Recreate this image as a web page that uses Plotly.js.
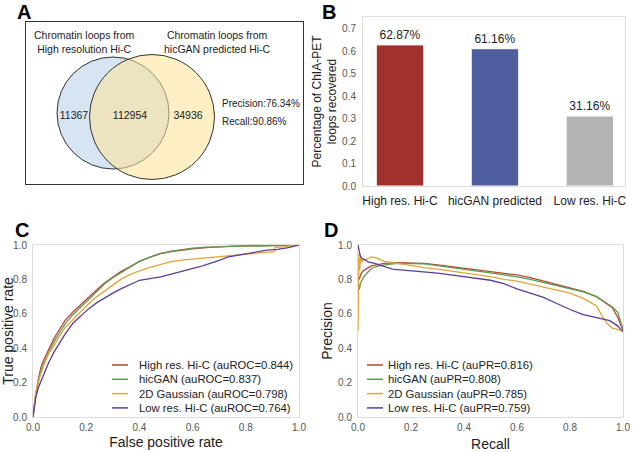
<!DOCTYPE html>
<html><head><meta charset="utf-8">
<script src="https://cdn.plot.ly/plotly-3.0.1.min.js"></script>
<style>html,body{margin:0;padding:0;background:#fff}#chart{width:633px;height:452px}</style>
</head><body><div id="chart"></div>
<script>
// ---------- Panel A data ----------
const vennSets = ['Chromatin loops from<br>High resolution Hi-C', 'Chromatin loops from<br>hicGAN predicted Hi-C'];
const vennCounts = [11367, 112954, 34936];
const vennStats = ['Precision:76.34%', 'Recall:90.86%'];

// ---------- Panel B data ----------
const barCats = ['High res. Hi-C', 'hicGAN predicted', 'Low res. Hi-C'];
const barVals = [0.6287, 0.6116, 0.3116];
const barColors = ['#a3312b', '#4f5e9e', '#b3b3b3'];

// ---------- Panel C/D series ----------
const seriesNames = ['High res. Hi-C', 'hicGAN', '2D Gaussian', 'Low res. Hi-C'];
const seriesColors = ['#bb423b', '#5c9e4e', '#e4a43c', '#5a3e98'];
const auROC = [0.844, 0.837, 0.798, 0.764];
const auPR = [0.816, 0.808, 0.785, 0.759];

const rocHighFpr = [0,0.005,0.01,0.02,0.03,0.04,0.06,0.08,0.10,0.12,0.15,0.18,0.21,0.24,0.27,0.30,0.33,0.36,0.40,0.44,0.48,0.52,0.56,0.60,0.65,0.70,0.75,0.80,0.90,1.0];
const rocHighTpr = [0,0.08,0.13,0.22,0.29,0.33,0.40,0.46,0.51,0.56,0.61,0.655,0.70,0.74,0.78,0.815,0.845,0.87,0.905,0.93,0.95,0.962,0.972,0.978,0.985,0.99,0.993,0.995,0.997,1.0];
const rocGanFpr = [0,0.005,0.01,0.02,0.03,0.04,0.06,0.08,0.10,0.12,0.15,0.18,0.21,0.24,0.27,0.30,0.33,0.36,0.40,0.44,0.48,0.52,0.56,0.60,0.65,0.70,0.75,0.80,0.90,1.0];
const rocGanTpr = [0,0.07,0.12,0.20,0.27,0.31,0.38,0.44,0.49,0.54,0.595,0.64,0.69,0.735,0.775,0.81,0.84,0.87,0.905,0.93,0.952,0.965,0.975,0.982,0.988,0.99,0.992,0.994,0.996,1.0];
const rocGaussFpr = [0,0.005,0.01,0.02,0.03,0.04,0.06,0.08,0.10,0.12,0.15,0.18,0.21,0.24,0.27,0.30,0.33,0.36,0.40,0.44,0.48,0.52,0.56,0.60,0.65,0.70,0.75,0.80,0.85,0.908,0.91,0.95,1.0];
const rocGaussTpr = [0,0.09,0.14,0.21,0.26,0.30,0.37,0.42,0.47,0.52,0.565,0.615,0.66,0.70,0.735,0.77,0.80,0.825,0.85,0.87,0.888,0.903,0.912,0.918,0.925,0.932,0.94,0.945,0.952,0.962,0.985,0.99,1.0];
const rocLowFpr = [0,0.005,0.01,0.02,0.03,0.04,0.06,0.08,0.10,0.12,0.15,0.18,0.21,0.24,0.27,0.30,0.33,0.36,0.40,0.44,0.48,0.52,0.56,0.60,0.63,0.66,0.70,0.73,0.77,0.80,0.84,0.88,0.92,0.96,1.0];
const rocLowTpr = [0,0.07,0.11,0.17,0.21,0.25,0.32,0.38,0.43,0.48,0.545,0.59,0.63,0.665,0.695,0.72,0.745,0.765,0.795,0.805,0.815,0.83,0.845,0.86,0.875,0.89,0.91,0.93,0.94,0.95,0.96,0.97,0.975,0.985,1.0];

const prHighRec = [0,0.005,0.01,0.02,0.03,0.05,0.07,0.1,0.15,0.2,0.25,0.3,0.35,0.4,0.45,0.5,0.55,0.6,0.65,0.7,0.75,0.8,0.85,0.9,0.93,0.96,0.98,0.99,1.0];
const prHighPrec = [0.82,0.80,0.83,0.85,0.86,0.878,0.885,0.893,0.897,0.895,0.893,0.885,0.875,0.865,0.857,0.848,0.838,0.826,0.81,0.79,0.77,0.75,0.73,0.70,0.67,0.635,0.58,0.54,0.505];
const prGanRec = [0,0.005,0.01,0.02,0.03,0.05,0.07,0.1,0.15,0.2,0.25,0.3,0.35,0.4,0.45,0.5,0.55,0.6,0.65,0.7,0.75,0.8,0.85,0.9,0.93,0.96,0.98,0.99,1.0];
const prGanPrec = [0.80,0.74,0.78,0.81,0.83,0.862,0.875,0.885,0.893,0.892,0.89,0.88,0.868,0.857,0.848,0.838,0.828,0.815,0.80,0.782,0.765,0.748,0.728,0.70,0.672,0.64,0.61,0.56,0.51];
const prGaussRec = [0,0.003,0.006,0.01,0.015,0.02,0.03,0.05,0.07,0.1,0.15,0.2,0.25,0.3,0.35,0.4,0.45,0.5,0.55,0.6,0.65,0.7,0.75,0.8,0.85,0.88,0.9,0.92,0.94,0.96,0.98,1.0];
const prGaussPrec = [0.5,0.95,0.85,0.93,0.90,0.92,0.915,0.93,0.925,0.905,0.893,0.88,0.868,0.86,0.85,0.84,0.828,0.816,0.80,0.79,0.772,0.755,0.738,0.72,0.69,0.665,0.645,0.59,0.545,0.515,0.51,0.50];
const prLowRec = [0,0.003,0.008,0.015,0.025,0.04,0.06,0.08,0.1,0.13,0.16,0.2,0.25,0.3,0.35,0.4,0.45,0.5,0.55,0.6,0.65,0.7,0.75,0.8,0.85,0.9,0.95,0.98,1.0];
const prLowPrec = [1.0,0.98,0.94,0.92,0.915,0.90,0.895,0.885,0.875,0.86,0.855,0.85,0.845,0.836,0.826,0.816,0.805,0.795,0.775,0.745,0.72,0.695,0.66,0.625,0.595,0.578,0.56,0.53,0.495];

// ---------- layout helpers (positions only) ----------
const W = 633, H = 452;
const PX = p => p / W;
const PY = p => 1 - p / H;
const FONT = 'Liberation Sans, Arial, sans-serif';

const rocX = [rocHighFpr, rocGanFpr, rocGaussFpr, rocLowFpr];
const rocY = [rocHighTpr, rocGanTpr, rocGaussTpr, rocLowTpr];
const prX = [prHighRec, prGanRec, prGaussRec, prLowRec];
const prY = [prHighPrec, prGanPrec, prGaussPrec, prLowPrec];

const traces = [];
// Panel B bars
traces.push({
  type: 'bar', x: barCats, y: barVals, xaxis: 'x', yaxis: 'y', width: 0.5,
  marker: {color: barColors, line: {color: '#ffffff', width: 1}},
  text: barVals.map(v => (v * 100).toFixed(2) + '%'), textposition: 'outside',
  textfont: {family: FONT, size: 12, color: '#222'}, cliponaxis: false, hoverinfo: 'skip'
});
// Panel C & D curves
for (let i = 0; i < 4; i++) {
  traces.push({type: 'scatter', mode: 'lines', x: rocX[i], y: rocY[i], xaxis: 'x2', yaxis: 'y2',
    line: {color: seriesColors[i], width: 1.3}, name: seriesNames[i]});
}
for (let i = 0; i < 4; i++) {
  traces.push({type: 'scatter', mode: 'lines', x: prX[i], y: prY[i], xaxis: 'x3', yaxis: 'y3',
    line: {color: seriesColors[i], width: 1.3}, name: seriesNames[i]});
}
// Panel A counts (text at region centres)
const vennTextX = [74, 130, 188];
const vennTextY = [116, 116, 116];
traces.push({type: 'scatter', mode: 'text', x: vennTextX, y: vennTextY, xaxis: 'x4', yaxis: 'y4',
  text: vennCounts.map(String), textfont: {family: FONT, size: 10.5, color: '#222'}, hoverinfo: 'skip', cliponaxis: false});

const frame = {showline: true, mirror: true, linecolor: '#dddddd', linewidth: 1, showgrid: false, zeroline: false, ticks: ''};
const tickF = {family: FONT, size: 10, color: '#555'};
const titleF = {family: FONT, size: 14, color: '#222'};
const vennF = {family: FONT, size: 10.5, color: '#222'};
const statF = {family: FONT, size: 10, color: '#222'};
const letterF = {family: FONT, size: 20, color: '#000'};

const layout = {
  width: W, height: H, margin: {l: 0, r: 0, t: 0, b: 0}, showlegend: false,
  paper_bgcolor: '#fff', plot_bgcolor: 'rgba(0,0,0,0)', font: {family: FONT},
  xaxis: Object.assign({}, frame, {domain: [PX(363), PX(625)], anchor: 'y', type: 'category', range: [-0.39, 2.37],
    tickfont: {family: FONT, size: 12, color: '#222'}, ticklabelstandoff: 4}),
  yaxis: Object.assign({}, frame, {domain: [PY(186), PY(17)], anchor: 'x', range: [0, 0.753], dtick: 0.1, tickformat: '.1f',
    tickfont: tickF, ticklabelstandoff: 4,
    title: {text: 'Percentage of ChIA-PET<br>loops recovered', font: {family: FONT, size: 12, color: '#222'}, standoff: 2}}),
  xaxis2: Object.assign({}, frame, {domain: [PX(33), PX(299)], anchor: 'y2', range: [0, 1], dtick: 0.2, tickformat: '.1f',
    tickfont: tickF, ticklabelstandoff: 1, title: {text: 'False positive rate', font: titleF, standoff: 5}}),
  yaxis2: Object.assign({}, frame, {domain: [PY(417), PY(245)], anchor: 'x2', range: [0, 1], dtick: 0.2, tickformat: '.1f',
    tickfont: tickF, ticklabelstandoff: 3, title: {text: 'True positive rate', font: titleF, standoff: 2}}),
  xaxis3: Object.assign({}, frame, {domain: [PX(358), PX(623)], anchor: 'y3', range: [0, 1], dtick: 0.2, tickformat: '.1f',
    tickfont: tickF, ticklabelstandoff: 1, title: {text: 'Recall', font: titleF, standoff: 9}}),
  yaxis3: Object.assign({}, frame, {domain: [PY(417), PY(245)], anchor: 'x3', range: [0, 1], dtick: 0.2, tickformat: '.1f',
    tickfont: tickF, ticklabelstandoff: 3, title: {text: 'Precision', font: titleF, standoff: 2}}),
  xaxis4: {domain: [PX(26), PX(303)], anchor: 'y4', range: [26, 303], showline: true, mirror: true, linecolor: '#333', linewidth: 1.2,
    showgrid: false, zeroline: false, showticklabels: false, ticks: ''},
  yaxis4: {domain: [PY(184), PY(22)], anchor: 'x4', range: [184, 22], showline: true, mirror: true, linecolor: '#333', linewidth: 1.2,
    showgrid: false, zeroline: false, showticklabels: false, ticks: ''},
  shapes: [
    {type: 'circle', xref: 'x4', yref: 'y4', x0: 57, x1: 169, y0: 57, y1: 169, layer: 'below',
      fillcolor: '#d7e5f3', line: {color: '#333', width: 1}},
    {type: 'circle', xref: 'x4', yref: 'y4', x0: 89.5, x1: 214.5, y0: 54.5, y1: 179.5, layer: 'below',
      fillcolor: 'rgba(253,226,150,0.55)', line: {color: '#333', width: 1}}
  ],
  annotations: [
    {xref: 'x4', yref: 'y4', x: 84, y: 42, text: vennSets[0], showarrow: false, font: vennF},
    {xref: 'x4', yref: 'y4', x: 217, y: 42, text: vennSets[1], showarrow: false, font: vennF},
    {xref: 'x4', yref: 'y4', x: 220, y: 104, text: vennStats[0], xanchor: 'left', showarrow: false, font: statF},
    {xref: 'x4', yref: 'y4', x: 220, y: 122, text: vennStats[1], xanchor: 'left', showarrow: false, font: statF},
    {xref: 'paper', yref: 'paper', x: PX(15), y: PY(-1), yanchor: 'top', text: '<b>A</b>', showarrow: false, font: letterF},
    {xref: 'paper', yref: 'paper', x: PX(329), y: PY(-1), yanchor: 'top', text: '<b>B</b>', showarrow: false, font: letterF},
    {xref: 'paper', yref: 'paper', x: PX(13), y: PY(217), yanchor: 'top', text: '<b>C</b>', showarrow: false, font: letterF},
    {xref: 'paper', yref: 'paper', x: PX(331), y: PY(217), yanchor: 'top', text: '<b>D</b>', showarrow: false, font: letterF}
  ]
};

// custom legends for C and D
const legSpacing = 14.3;
function addLegend(lineX0, textX, rowY0, labels) {
  for (let i = 0; i < labels.length; i++) {
    const yy = rowY0 + i * legSpacing;
    layout.shapes.push({type: 'line', xref: 'paper', yref: 'paper', x0: PX(lineX0), x1: PX(lineX0 + 16), y0: PY(yy), y1: PY(yy),
      line: {color: seriesColors[i], width: 1.5}});
    layout.annotations.push({xref: 'paper', yref: 'paper', x: PX(textX), y: PY(yy), xanchor: 'left', yanchor: 'middle',
      text: labels[i], showarrow: false, font: {family: FONT, size: 11.3, color: '#222'}});
  }
}
addLegend(112, 137, 365, seriesNames.map((n, i) => n + ' (auROC=' + auROC[i].toFixed(3) + ')'));
addLegend(367, 386, 365, seriesNames.map((n, i) => n + ' (auPR=' + auPR[i].toFixed(3) + ')'));

Plotly.newPlot('chart', traces, layout, {staticPlot: true, displayModeBar: false});
</script>
</body></html>
